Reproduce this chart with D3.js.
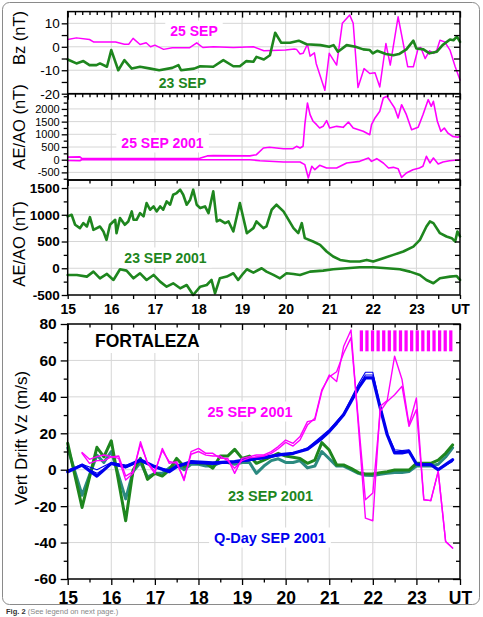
<!DOCTYPE html>
<html><head><meta charset="utf-8">
<script src="https://cdn.jsdelivr.net/npm/d3@7"></script>
<style>body{margin:0;background:#fff}svg{display:block}</style>
</head><body><svg id="c" width="483" height="617"></svg>
<script>
// ---------------- DATA ----------------
// Panel 1: IMF Bz (nT)
const bzHours25 = [15,15.2,15.5,15.6,16.1,16.3,16.4,16.5,16.66,16.8,16.9,17.0,17.2,17.4,17.8,17.96,18.1,18.34,18.8,19.26,19.5,20.0,20.2,20.25,20.33,20.4,20.5,20.56,20.66,20.7,20.9,21.0,21.17,21.3,21.47,21.55,21.66,21.8,21.93,22.05,22.16,22.3,22.4,22.58,22.8,22.93,23.04,23.1,23.2,23.3,23.4,23.47,23.54,23.65,23.77,23.89,24.0];
const bz25 = [3.1,3.8,3.1,2.0,2.0,1.1,1.1,3.6,1.0,1.7,0,0.7,-1.1,-0.4,-0.4,1.7,-0.3,0,-0.3,0,-1.7,-1.4,-0.9,-1.1,-3.1,-2.8,1.1,-4.0,-2.6,-7.1,-18.5,-2.8,-7.8,10,13.5,10,-17.4,-9.3,-11.4,-11.1,-17.1,1.4,-7.8,12.8,-8.5,-8.5,-0.7,-0.3,-5.0,-1.7,-2.8,-1.4,2.8,2.1,-1.4,-8.5,-14.2];
const bzHours23 = [15,15.2,15.36,15.5,15.66,15.74,15.9,16.0,16.16,16.3,16.47,16.66,16.9,17.1,17.4,17.54,17.6,17.9,18.04,18.34,18.57,18.8,18.95,19.1,19.26,19.33,19.5,19.64,19.76,19.9,20.1,20.3,20.48,20.8,21.0,21.1,21.2,21.4,21.6,21.78,21.93,22.0,22.1,22.3,22.47,22.6,22.77,22.93,23.0,23.16,23.3,23.47,23.6,23.77,23.85,23.93,24.0];
const bz23 = [-5.4,-7.1,-6.1,-7.8,-7.8,-7.1,-8.5,-1.4,-10,-5.7,-9.3,-8.5,-9.3,-10,-9,-7.8,-10,-9.3,-8.3,-8.5,-5.7,-8.3,-8.3,-6.1,-6.4,-4.3,-5.4,-3.6,6.0,1.7,1.7,2.6,1.1,0.7,0,0.7,-2.1,0.7,0,-1.1,-1.4,-2.8,-1.7,-3.1,-3.6,-3.1,-1.1,2.6,-0.7,-1.1,-2.8,-2.1,0.7,3.1,2.8,4.3,2.1];

// Panel 2: AE / AO, 25 Sep 2001 (nT)
const aeHours25 = [15,15.28,15.32,16,17,18.03,18.2,18.34,19.18,19.33,19.49,19.63,19.95,20.17,20.25,20.33,20.4,20.44,20.5,20.56,20.63,20.71,20.78,20.86,20.94,21.01,21.17,21.32,21.44,21.55,21.78,21.93,21.97,22.05,22.16,22.24,22.32,22.4,22.5,22.58,22.66,22.77,22.89,23.04,23.15,23.27,23.34,23.39,23.48,23.56,23.64,23.72,23.83,23.95,24.0];
const ae25 = [100,110,50,45,50,55,150,160,150,197,461,489,433,433,528,461,528,1379,2234,1773,1513,1379,1249,1314,1537,1249,1314,1275,1485,1249,1118,985,1379,1643,1906,2431,2498,2300,2037,1643,2167,1773,1182,1275,1773,2364,2102,2300,1513,1118,1249,1052,920,881,920];
const aoHours25 = [15,15.28,15.32,16,17,18,19.18,19.41,19.95,20.33,20.44,20.52,20.6,20.67,20.78,20.94,21.17,21.4,21.7,21.9,21.97,22.09,22.24,22.36,22.47,22.58,22.66,22.77,22.92,23.07,23.15,23.23,23.31,23.39,23.5,23.61,23.76,24.0];
const ao25 = [-30,-40,0,0,0,0,0,-39,-91,-91,-196,-721,-261,-393,-222,-327,-327,-130,-65,67,-65,40,-130,-327,-301,-353,-695,-524,-393,-327,-261,134,-130,67,-170,-91,-39,0];

// Panel 3: AE / AO, 23 Sep 2001 (nT)
const aeHours23 = [15.0,15.09,15.17,15.28,15.36,15.44,15.51,15.59,15.74,15.82,15.89,15.97,16.09,16.12,16.2,16.31,16.39,16.47,16.51,16.58,16.66,16.74,16.81,16.89,16.97,17.04,17.12,17.19,17.27,17.35,17.42,17.5,17.58,17.65,17.73,17.81,17.88,17.96,18.04,18.15,18.23,18.34,18.42,18.49,18.61,18.69,18.8,18.95,19.11,19.26,19.33,19.49,19.56,19.68,19.79,19.95,20.02,20.18,20.29,20.37,20.44,20.63,20.79,20.94,21.09,21.25,21.48,21.7,21.86,22.01,22.24,22.47,22.7,22.93,23.08,23.23,23.31,23.39,23.54,23.69,23.81,23.89,23.94,24.0];
const ae23 = [969,1000,813,750,844,781,956,719,781,688,531,813,906,656,938,813,875,1063,906,906,1031,969,1219,1094,1156,1063,1156,1094,1250,1188,1375,1406,1469,1375,1188,1281,1469,1188,1125,1156,1031,1438,875,906,844,875,688,1219,656,750,875,750,781,1094,1188,1063,969,750,656,844,563,500,438,313,219,156,125,125,156,125,188,250,313,406,531,781,875,844,656,594,563,500,688,594];
const aoHours23 = [15.0,15.21,15.44,15.59,15.74,15.9,16.05,16.2,16.35,16.51,16.66,16.81,16.97,17.12,17.27,17.42,17.58,17.73,17.88,18.04,18.19,18.3,18.38,18.49,18.65,18.8,18.91,19.03,19.11,19.26,19.45,19.56,19.72,19.87,20.02,20.18,20.33,20.56,20.86,21.09,21.4,21.7,22.01,22.32,22.62,22.85,23.08,23.23,23.39,23.54,23.77,23.92,24.0];
const ao23 = [-125,-125,-156,-63,-188,-106,-219,-19,-44,-188,-94,-219,-125,-250,-344,-281,-375,-313,-500,-344,-313,-219,-469,-188,-156,-94,-219,-94,-19,-81,0,-63,-125,-188,-94,-106,-125,-63,-44,-19,0,19,19,0,-19,-63,-125,-219,-281,-188,-156,-144,-219];

// Panel 4: vertical drift Vz (m/s), Fortaleza
const vzHoursStorm = [15.33,15.5,15.67,15.83,16.0,16.17,16.33,16.5,16.67,16.83,17.0,17.17,17.33,17.5,17.67,17.83,18.0,18.17,18.33,18.5,18.67,18.83,19.0,19.17,19.33,19.5,19.67,19.83,20.0,20.17,20.33,20.5,20.67,20.83,21.0,21.17,21.33,21.5,21.83,22.0,22.17,22.33,22.5,22.67,22.83,23.0,23.17,23.33,23.5,23.67,23.83];
const vz25a = [9.4,5.7,7.2,8.1,7.2,6.2,-5.7,-2.0,15.4,3.5,-2.0,11.7,3.5,4.4,-6.0,9.9,11.7,9.0,9.0,6.2,6.2,-2.0,6.2,7.2,8.1,8.1,9.9,12.7,16.3,14.5,18.2,26.4,27.3,42.9,52,48.4,67.6,76.7,-26.6,-28,34.8,38,62.3,49.5,24.7,39.4,-16.5,-17,-0.9,-39.4,-43];
const vz25b = [9.0,3.5,5.0,5.0,7.0,7.5,-3.5,-1.0,14.0,4.0,-1.0,10.5,4.5,3.5,-5.0,8.5,10.0,8.0,7.5,7.5,5.0,0.8,5.0,6.5,7.0,7.5,9.0,11.5,15.0,13.0,16.3,24.5,28.2,43.8,51,53.8,63.9,72.5,-16.5,-12.8,32,37.5,41.2,45.8,23.8,33,-16.5,-17,-0.9,-39.4,-43];
const vzHours23 = [15.0,15.33,15.67,15.83,16.0,16.33,16.5,16.67,16.83,17.0,17.17,17.33,17.5,17.67,17.83,18.0,18.17,18.33,18.5,18.67,18.83,19.0,19.17,19.33,19.5,19.67,19.83,20.0,20.17,20.33,20.5,20.67,20.83,21.0,21.17,21.33,21.5,21.67,21.83,22.0,22.17,22.33,22.5,22.67,22.83,23.0,23.17,23.33,23.5,23.67,23.83];
const vz23a = [14.5,-20.7,12.3,7.1,15.9,-28,-0.2,6.2,-5.3,-2.0,-3.5,-0.2,6.2,1.7,4.4,3.5,3.5,0.8,7.5,7.5,11.2,6.2,7.5,3.5,5.3,7.2,9.0,7.5,6.8,6.2,3.5,5.3,14.9,10.8,2.6,2.6,0.8,-1.6,-2.4,-2.4,-1.6,-1.1,-0.2,-0.2,-0.2,3.5,3.5,3.5,5.3,9.0,13.6];
const vz23b = [12,-14,8,4,10,-16,-1,4,-4,-2,-2,1,3,0,3,3,2,2,4,4,3,4,4,-2,2,5,6,4,4,5,1,2,10,6,2,2,0,-2,-3,-3.2,-2.5,-2,-1.5,-1.5,-1,2,2,2,3,7,12];
const vzHoursQ = [15.0,15.33,15.67,16.0,16.33,16.67,17.0,17.33,17.5,17.83,18.33,18.83,19.17,19.5,19.83,20.17,20.5,20.83,21.0,21.17,21.33,21.5,21.67,21.83,22.0,22.17,22.33,22.5,22.67,22.83,23.0,23.17,23.33,23.5,23.67,23.83];
const vzQ = [-1.1,2.5,-3.5,3.5,1.7,5.3,1.7,-1.1,1.7,4.4,3.8,4.4,5.7,6.8,8.1,9.0,11.2,17.2,21,25.6,30.2,37.5,44.9,50.4,50.4,33.9,19.2,9.2,9.2,10.1,3.1,2.8,2.8,0,2.8,5.5];
const vzQ1 = [-0.5,3,0,4,2.5,5,1.5,0,2.5,4,3,4,5,6,7.5,9,12,18.5,22,26.5,31,39,47,53.5,53.5,35,20,11,10.5,11,3.5,3,3,0.5,3,5];
const vzQ2 = [0,2,-2,3,1,4.5,1,-0.5,1.5,3.5,3,4,5,6.5,8,8.5,11.5,17.5,21,25,30,38,45.5,52,52,34.5,19.5,10,10,10.5,3.3,2.8,2.5,0.3,2.5,4.5];

// spread-F bar band (hours / m/s)
const sfStart = 21.7, sfEnd = 23.88, sfLow = 65, sfHigh = 76.5, sfCount = 17;

// axis tick labels
const hourTicks = [15,16,17,18,19,20,21,22,23,24];
const hourLabels = ["15","16","17","18","19","20","21","22","23","UT"];
const bzTicks = [-20,-10,0,10];
const ae25Ticks = [-500,0,500,1000,1500,2000];
const ae23Ticks = [-500,0,500,1000,1500];
const vzTicks = [-60,-40,-20,0,20,40,60,80];

// ---------------- DRAWING ----------------
const FONT = "'Liberation Sans', Arial, Helvetica, sans-serif";
const MAG = "#ff00ff", GRN = "#1e861e", TEAL = "#2b8a80", BLU = "#0000ee";
const svg = d3.select("#c").style("font-family", FONT);
const X0 = 67.7, X1 = 460;
const x = d3.scaleLinear().domain([15,24]).range([X0,X1]);
const y1 = d3.scaleLinear().domain([-20,15]).range([93.7,11.6]);
const y2 = d3.scaleLinear().domain([-800,2600]).range([180,93.7]);
const y3 = d3.scaleLinear().domain([-500,1650]).range([295,180]);
const y4 = d3.scaleLinear().domain([-60,80]).range([579,324]);
const plain = d => String(d);

// outer frame
svg.append("rect").attr("x",2.5).attr("y",2.5).attr("width",477).attr("height",602)
  .attr("rx",7).attr("fill","none").attr("stroke","#8a8a8a").attr("stroke-width",1);

const innerHours = hourTicks.slice(1,-1);
function grid(y, yv){
  const [b,t] = y.range();
  const g = svg.append("g").attr("stroke","#d6d6d6").attr("stroke-width",1);
  g.selectAll(null).data(innerHours).join("line")
    .attr("x1",d=>x(d)).attr("x2",d=>x(d)).attr("y1",t).attr("y2",b);
  g.selectAll(null).data(yv).join("line")
    .attr("x1",X0).attr("x2",X1).attr("y1",d=>y(d)).attr("y2",d=>y(d));
}
grid(y1,[-10,0,10]);
grid(y2,[-500,0,500,1000,1500,2000]);
grid(y3,[0,500,1000,1500]);
grid(y4,[-40,-20,0,20,40,60]);

function label(txt, cx, by, color, size, anchor){
  const g = svg.append("g");
  const r = g.append("rect").attr("fill","#fff");
  const t = g.append("text").attr("x",cx).attr("y",by).attr("fill",color)
    .attr("font-size",size).attr("font-weight","bold").attr("text-anchor",anchor||"middle").text(txt);
  const bb = t.node().getBBox();
  r.attr("x",bb.x-5).attr("y",bb.y-2).attr("width",bb.width+10).attr("height",bb.height+4);
}
label("25 SEP",194,35.5,MAG,14);
label("23 SEP",182.5,88,GRN,14);
label("25 SEP 2001",162.5,147.5,MAG,14);
label("23 SEP 2001",165.5,262.5,GRN,14);
label("FORTALEZA",95,347,"#000",17.5,"start");
label("25 SEP 2001",250,416.5,MAG,14.5);
label("23 SEP 2001",270.5,500.5,GRN,14.5);
label("Q-Day SEP 2001",270,542.5,BLU,14.5);

function path(hs, vs, y, color, w){
  const data = d3.zip(hs, vs);
  svg.append("path").datum(data).attr("fill","none").attr("stroke",color)
    .attr("stroke-width",w).attr("stroke-linejoin","round").attr("stroke-linecap","round")
    .attr("d", d3.line().x(d=>x(d[0])).y(d=>y(d[1])));
}
// panel 1
path(bzHours25, bz25, y1, MAG, 1.5);
path(bzHours23, bz23, y1, GRN, 2.6);
// panel 2
path(aoHours25, ao25, y2, MAG, 1.6);
path(aeHours25, ae25, y2, MAG, 1.6);
// panel 3
path(aoHours23, ao23, y3, GRN, 2.6);
path(aeHours23, ae23, y3, GRN, 2.6);
// panel 4
path(vzHours23, vz23b, y4, TEAL, 3);
path(vzHours23, vz23a, y4, GRN, 3);
path(vzHoursQ, vzQ1, y4, BLU, 1.1);
path(vzHoursQ, vzQ2, y4, BLU, 1.1);
path(vzHoursQ, vzQ, y4, BLU, 3.2);
path(vzHoursStorm, vz25a, y4, MAG, 1.4);
path(vzHoursStorm, vz25b, y4, MAG, 1.4);

// spread-F bars
const sfStep = (sfEnd - sfStart) / sfCount;
const sfBars = d3.range(sfCount).map(i => sfStart + i*sfStep);
svg.append("g").selectAll("rect").data(sfBars).join("rect")
  .attr("x",d=>x(d)).attr("width",x(sfStart+sfStep*0.58)-x(sfStart))
  .attr("y",y4(sfHigh)).attr("height",y4(sfLow)-y4(sfHigh)).attr("fill",MAG);

// frames
[y1,y2,y3,y4].forEach(y=>{
  const [b,t]=y.range();
  svg.append("rect").attr("x",X0).attr("y",t).attr("width",X1-X0).attr("height",b-t)
    .attr("fill","none").attr("stroke","#000").attr("stroke-width",1.5);
});

function ax(gen, tx, ty, fs, fw){
  const g = svg.append("g").attr("transform",`translate(${tx},${ty})`).call(gen);
  g.select(".domain").remove();
  g.selectAll(".tick line").attr("stroke","#000").attr("stroke-width",1.3);
  g.selectAll("text").attr("fill","#000").attr("font-size",fs||12).attr("font-weight",fw||"normal")
    .attr("font-family",FONT);
  return g;
}
const tenMin = d3.range(15,24.001,1/6).filter(h=>Math.abs(h-Math.round(h))>0.02);
const halfH = d3.range(15.5,24,1);

// Panel 1 axes
ax(d3.axisLeft(y1).tickValues(bzTicks).tickSize(6).tickPadding(2).tickFormat(plain), X0, 0, 13.5);
ax(d3.axisLeft(y1).tickValues([-15,-5,5]).tickSize(6).tickFormat(""), X0, 0);
ax(d3.axisLeft(y1).tickValues([-15,-10,-5,0,5,10]).tickSize(6).tickFormat(""), X1, 0);
ax(d3.axisBottom(x).tickValues(hourTicks).tickSize(6).tickFormat(""), 0, y1.range()[1]);
ax(d3.axisBottom(x).tickValues(tenMin).tickSize(3.5).tickFormat(""), 0, y1.range()[1]);

// Panel 2 axes
ax(d3.axisLeft(y2).tickValues(ae25Ticks).tickSize(6).tickPadding(2).tickFormat(plain), X0, 0, 11);
ax(d3.axisLeft(y2).tickValues([-750,-250,250,750,1250,1750,2250,2500]).tickSize(4).tickFormat(""), X0, 0);
ax(d3.axisLeft(y2).tickValues(d3.range(-750,2600,250)).tickSize(5).tickFormat(""), X1, 0);
ax(d3.axisBottom(x).tickValues(hourTicks).tickSize(6).tickFormat(""), 0, y2.range()[1]);
ax(d3.axisBottom(x).tickValues(tenMin).tickSize(3.5).tickFormat(""), 0, y2.range()[1]);

// Panel 3 axes
ax(d3.axisLeft(y3).tickValues(ae23Ticks).tickSize(6).tickPadding(2).tickFormat(plain), X0, 0, 13.5, "bold");
ax(d3.axisLeft(y3).tickValues([-250,250,750,1250]).tickSize(4).tickFormat(""), X0, 0);
ax(d3.axisLeft(y3).tickValues(d3.range(-250,1650,250)).tickSize(5).tickFormat(""), X1, 0);
ax(d3.axisBottom(x).tickValues(hourTicks).tickSize(6).tickFormat(""), 0, y3.range()[1]);
ax(d3.axisBottom(x).tickValues(halfH).tickSize(3.5).tickFormat(""), 0, y3.range()[1]);
ax(d3.axisBottom(x).tickValues(hourTicks).tickSize(4).tickPadding(5).tickFormat((d,i)=>hourLabels[i]), 0, y3.range()[0], 14, "bold");
ax(d3.axisBottom(x).tickValues(halfH).tickSize(4).tickFormat(""), 0, y3.range()[0]);

// Panel 4 axes
ax(d3.axisLeft(y4).tickValues(vzTicks).tickSize(7).tickPadding(4).tickFormat(plain), X0, 0, 15.5, "bold");
ax(d3.axisLeft(y4).tickValues(d3.range(-50,80,20)).tickSize(4).tickFormat(""), X0, 0);
ax(d3.axisLeft(y4).tickValues(vzTicks).tickSize(7).tickFormat(""), X1, 0);
ax(d3.axisLeft(y4).tickValues(d3.range(-50,80,20)).tickSize(4).tickFormat(""), X1, 0);
ax(d3.axisBottom(x).tickValues(hourTicks).tickSize(6).tickFormat(""), 0, y4.range()[1]);
ax(d3.axisBottom(x).tickValues(halfH).tickSize(3.5).tickFormat(""), 0, y4.range()[1]);
ax(d3.axisBottom(x).tickValues(hourTicks).tickSize(6).tickPadding(7).tickFormat((d,i)=>hourLabels[i]), 0, y4.range()[0], 17.5, "bold");
ax(d3.axisBottom(x).tickValues(halfH).tickSize(3.5).tickFormat(""), 0, y4.range()[0]);

// y axis titles
function ytitle(txt, cx, cy, fs){
  svg.append("text").attr("transform",`translate(${cx},${cy}) rotate(-90)`)
    .attr("text-anchor","middle").attr("dy","0.35em").attr("font-size",fs).attr("fill","#000").text(txt);
}
ytitle("Bz (nT)", 19.5, 38, 16.5);
ytitle("AE/AO (nT)", 19, 127, 16.5);
ytitle("AE/AO (nT)", 19, 244, 16.5);
ytitle("Vert Drift Vz (m/s)", 21, 438, 17);

// caption
const cap = svg.append("text").attr("x",6).attr("y",614).attr("font-size",7.5);
cap.append("tspan").attr("font-weight","bold").attr("fill","#333").text("Fig. 2 ");
cap.append("tspan").attr("fill","#888").text("(See legend on next page.)");
</script>
</body></html>
